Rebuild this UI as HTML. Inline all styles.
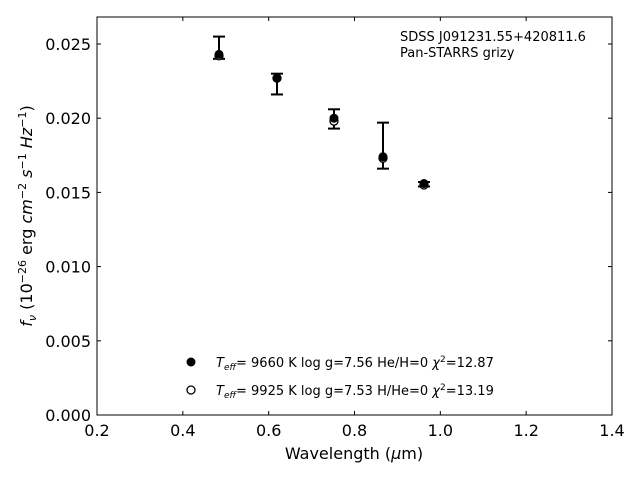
<!DOCTYPE html>
<html><head><meta charset="utf-8"><style>
body{margin:0;background:#fff;font-family:"DejaVu Sans","Liberation Sans",sans-serif}
svg text{font-family:"DejaVu Sans","Liberation Sans",sans-serif}
</style></head><body>
<svg id="c" width="640" height="480" xmlns="http://www.w3.org/2000/svg"></svg>
<script>
const wavelengths=[0.4843,0.6194,0.7522,0.8664,0.9619];
const fluxHHe=[0.0243,0.0227,0.0200,0.0174,0.0156];
const fluxHeH=[0.0242,0.0227,0.0198,0.0173,0.0155];
const errLo=[0.0240,0.0216,0.0193,0.0166,0.0154];
const errHi=[0.0255,0.0230,0.0206,0.0197,0.0157];
const xTicks=[0.2,0.4,0.6,0.8,1.0,1.2,1.4];
const yTicks=[0,0.005,0.010,0.015,0.020,0.025];
const L=97,R=612,T=17,B=415;
const X=v=>L+(v-0.2)/1.2*(R-L);
const Y=v=>B-v/0.025*371;
const s=document.getElementById('c');const NS='http://www.w3.org/2000/svg';
function mk(t,a,p){const e=document.createElementNS(NS,t);for(const k in a)e.setAttribute(k,a[k]);(p||s).appendChild(e);return e;}
let r=mk('rect',{x:L,y:T,width:R-L,height:B-T,fill:'none',stroke:'#000','stroke-width':1});


xTicks.forEach(v=>{const x=X(v);
mk('line',{x1:x,x2:x,y1:B,y2:B-4,stroke:'#000'});mk('line',{x1:x,x2:x,y1:T,y2:T+4,stroke:'#000'});
const t=mk('text',{x:x,y:B+21,'text-anchor':'middle','font-size':16});t.textContent=v.toFixed(1);

});
yTicks.forEach(v=>{const y=Y(v);
mk('line',{x1:L,x2:L+4,y1:y,y2:y,stroke:'#000'});mk('line',{x1:R,x2:R-4,y1:y,y2:y,stroke:'#000'});
const t=mk('text',{x:L-6,y:y+6,'text-anchor':'end','font-size':16});t.textContent=v.toFixed(3);

});
wavelengths.forEach((w,i)=>{const x=X(w);
const g=mk('g',{});


mk('line',{x1:x,x2:x,y1:Y(errLo[i]),y2:Y(errHi[i]),stroke:'#000','stroke-width':2},g);
mk('line',{x1:x-6,x2:x+6,y1:Y(errLo[i]),y2:Y(errLo[i]),stroke:'#000','stroke-width':2},g);
mk('line',{x1:x-6,x2:x+6,y1:Y(errHi[i]),y2:Y(errHi[i]),stroke:'#000','stroke-width':2},g);
const o=mk('circle',{cx:x,cy:Y(fluxHeH[i]),r:4,fill:'#fff',stroke:'#000','stroke-width':1.3});


const f=mk('circle',{cx:x,cy:Y(fluxHHe[i]),r:4.5,fill:'#000'});

});
</script>
<svg style="position:absolute;left:0;top:0" width="640" height="480" xmlns="http://www.w3.org/2000/svg">
<text x="354" y="459" text-anchor="middle" font-size="16">Wavelength (<tspan font-style="italic">μ</tspan>m)</text>
<text transform="translate(32,216) rotate(-90)" text-anchor="middle" font-size="16"><tspan font-style="italic">f</tspan><tspan font-size="11" dy="4" font-style="italic">ν</tspan><tspan dy="-4"> (10</tspan><tspan font-size="11" dy="-6">−26</tspan><tspan dy="6"> erg </tspan><tspan font-style="italic">cm</tspan><tspan font-size="11" dy="-6">−2</tspan><tspan dy="6" font-style="italic"> s</tspan><tspan font-size="11" dy="-6">−1</tspan><tspan dy="6" font-style="italic"> Hz</tspan><tspan font-size="11" dy="-6">−1</tspan><tspan dy="6">)</tspan></text>
<text x="400" y="41" font-size="13">SDSS J091231.55+420811.6</text>
<text x="400" y="57" font-size="13">Pan-STARRS grizy</text>
<g font-size="13">
<circle cx="191" cy="362" r="4.5" fill="#000"/>
<text x="216" y="367"><tspan font-style="italic">T</tspan><tspan font-style="italic" font-size="9" dy="3">eff</tspan><tspan dy="-3">=  9660 K  log g=7.56  He/H=0  </tspan><tspan font-style="italic">χ</tspan><tspan font-size="9" dy="-5">2</tspan><tspan dy="5">=12.87</tspan></text>
<circle cx="191" cy="390" r="4" fill="#fff" stroke="#000" stroke-width="1.3"/>
<text x="216" y="395"><tspan font-style="italic">T</tspan><tspan font-style="italic" font-size="9" dy="3">eff</tspan><tspan dy="-3">=  9925 K  log g=7.53  H/He=0  </tspan><tspan font-style="italic">χ</tspan><tspan font-size="9" dy="-5">2</tspan><tspan dy="5">=13.19</tspan></text>
</g>
</svg>
</body></html>
